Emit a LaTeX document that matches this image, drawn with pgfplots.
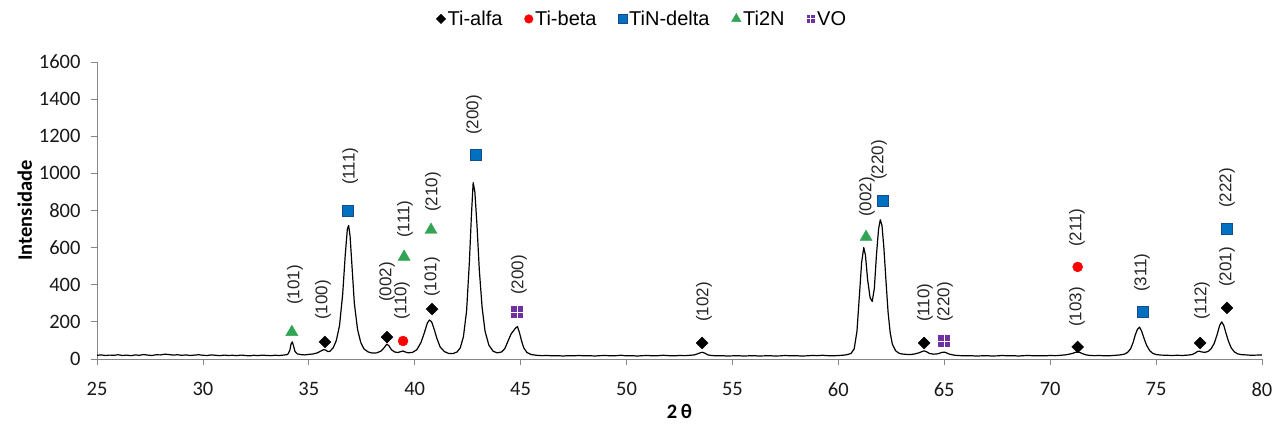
\documentclass[border=0pt]{standalone}
\usepackage{fontspec}
\setmainfont{Liberation Sans}
\newfontfamily\calfont{Carlito}
\usepackage{pgfplots}
\pgfplotsset{compat=1.18}
\definecolor{tinblue}{RGB}{0,112,192}
\definecolor{tinborder}{RGB}{25,75,140}
\definecolor{tigreen}{RGB}{50,165,85}
\definecolor{vopurple}{RGB}{112,48,160}
\definecolor{axgray}{RGB}{134,134,134}
\pgfdeclareplotmark{vo}{%
  \pgfpathrectangle{\pgfqpoint{-\pgfplotmarksize}{-\pgfplotmarksize}}{\pgfqpoint{2\pgfplotmarksize}{2\pgfplotmarksize}}%
  \pgfusepathqfill
  \pgfsetstrokecolor{white}\pgfsetlinewidth{0.9pt}%
  \pgfpathmoveto{\pgfqpoint{0pt}{-\pgfplotmarksize}}\pgfpathlineto{\pgfqpoint{0pt}{\pgfplotmarksize}}%
  \pgfpathmoveto{\pgfqpoint{-\pgfplotmarksize}{0pt}}\pgfpathlineto{\pgfqpoint{\pgfplotmarksize}{0pt}}%
  \pgfusepathqstroke}
\tikzset{lbl/.style={rotate=90, anchor=west, inner sep=0pt, font=\fontsize{17}{17}\selectfont, text=black!85}}
\begin{document}
\begin{tikzpicture}
\useasboundingbox (-97pt,-67pt) rectangle (1176pt,359pt);
\begin{axis}[
  at={(0pt,0pt)}, anchor=south west,
  scale only axis, width=1165pt, height=297pt,
  xmin=25, xmax=80, ymin=0, ymax=1600,
  xtick={25,30,...,80}, ytick={0,200,...,1600},
  axis x line*=bottom, axis y line*=left,
  axis line style={-, draw=axgray, line width=0.8pt},
  tick align=outside, major tick length=6pt,
  tick style={draw=axgray, line width=0.8pt},
  /pgf/number format/assume math mode=true,
  /pgf/number format/1000 sep={},
  ticklabel style={font=\calfont\fontsize{20.5}{20.5}\selectfont, text=black!90},
  xticklabel style={yshift=-14pt},
  yticklabel style={xshift=-7pt},
  xlabel={\textbf{2\,θ}}, ylabel={\textbf{Intensidade}},
  xlabel style={at={(axis description cs:0.5,-0.178)}, anchor=center, font=\calfont\fontsize{20.5}{20.5}\selectfont},
  ylabel style={at={(axis description cs:-0.062,0.5)}, anchor=center, font=\calfont\fontsize{20.5}{20.5}\selectfont},
  legend columns=5,
  legend style={draw=none, fill=none, at={(0.468,1.145)}, anchor=center,
    font=\fontsize{20}{20}\selectfont, nodes={inner sep=2pt},
    /tikz/every even column/.append style={column sep=20pt}},
  clip=false,
]
% legend images
\addlegendimage{legend image code/.code={\draw[only marks, mark=square*, mark size=3.3pt, mark options={rotate=45, fill=black, draw=black}] plot coordinates {(0pt,0pt)};}}
\addlegendentry{Ti-alfa}
\addlegendimage{legend image code/.code={\draw[only marks, mark=*, mark size=4.3pt, mark options={fill=red, draw=red}] plot coordinates {(0pt,0pt)};}}
\addlegendentry{Ti-beta}
\addlegendimage{legend image code/.code={\draw[only marks, mark=square*, mark size=4.3pt, mark options={fill=tinblue, draw=tinborder, line width=0.5pt}] plot coordinates {(0pt,0pt)};}}
\addlegendentry{TiN-delta}
\addlegendimage{legend image code/.code={\draw[only marks, mark=triangle*, mark size=5.5pt, mark options={fill=tigreen, draw=tigreen}] plot coordinates {(0pt,0pt)};}}
\addlegendentry{Ti2N}
\addlegendimage{legend image code/.code={\draw[only marks, mark=vo, mark size=4.3pt, fill=vopurple] plot coordinates {(0pt,0pt)};}}
\addlegendentry{VO}

% diffractogram
\addplot[forget plot, black, line width=1.2pt, line join=round] coordinates {
(25.0,20) (25.2,22) (25.4,19) (25.6,21) (25.8,20) (26.0,23) (26.2,19) (26.4,21) (26.6,18) (26.8,22)
(27.0,20) (27.2,24) (27.4,21) (27.6,19) (27.8,23) (28.0,22) (28.2,26) (28.4,24) (28.6,21) (28.8,23)
(29.0,20) (29.2,22) (29.4,19) (29.6,21) (29.8,23) (30.0,20) (30.2,19) (30.4,22) (30.6,20) (30.8,18)
(31.0,21) (31.2,19) (31.4,20) (31.6,18) (31.8,21) (32.0,19) (32.2,17) (32.4,20) (32.6,18) (32.8,21)
(33.0,19) (33.2,18) (33.4,20) (33.6,19) (33.8,21) (34.0,24)
(34.1,45) (34.16,80) (34.22,92) (34.28,70) (34.35,40) (34.45,28) (34.6,24) (34.8,22) (35.0,25) (35.2,27)
(35.4,33) (35.55,42) (35.7,50) (35.8,48) (35.9,40) (36.0,42) (36.15,60) (36.3,100) (36.45,180) (36.6,350)
(36.72,560) (36.82,700) (36.88,720) (36.95,660) (37.05,480) (37.15,300) (37.3,160) (37.45,90) (37.6,55) (37.8,38)
(38.0,32) (38.2,33) (38.4,42) (38.55,60) (38.68,80) (38.78,72) (38.9,50) (39.05,38) (39.2,35) (39.35,40)
(39.45,43) (39.55,38) (39.7,33) (39.9,36) (40.1,50) (40.3,90) (40.45,140) (40.6,195) (40.7,210) (40.8,200)
(40.92,160) (41.05,110) (41.2,65) (41.4,40) (41.6,30) (41.8,29) (42.0,38) (42.15,60) (42.3,120) (42.45,260)
(42.58,520) (42.68,780) (42.76,950) (42.84,900) (42.94,720) (43.05,480) (43.18,280) (43.32,150) (43.5,75) (43.7,42)
(43.9,33) (44.1,38) (44.25,55) (44.4,95) (44.55,135) (44.65,150) (44.75,165) (44.85,175) (44.95,140) (45.05,95)
(45.15,60) (45.3,35) (45.5,24) (45.75,20) (46.0,18)
(46.25,19) (46.5,17) (46.75,18) (47.0,16) (47.25,18) (47.5,17) (47.75,19) (48.0,17) (48.25,18) (48.5,16)
(48.75,18) (49.0,19) (49.25,17) (49.5,18) (49.75,20) (50.0,17) (50.25,18) (50.5,16) (50.75,18) (51.0,19)
(51.25,17) (51.5,18) (51.75,20) (52.0,18) (52.25,17) (52.5,19) (52.75,18) (53.0,20) (53.2,22) (53.35,28)
(53.5,34) (53.6,36) (53.72,30) (53.85,22) (54.0,19) (54.25,17) (54.5,18) (54.75,16) (55.0,17) (55.25,18)
(55.5,16) (55.75,17) (56.0,18) (56.25,16) (56.5,17) (56.75,18) (57.0,16) (57.25,17) (57.5,19) (57.75,17)
(58.0,18) (58.25,16) (58.5,17) (58.75,19) (59.0,18) (59.25,20) (59.5,18) (59.75,17) (60.0,19) (60.2,20)
(60.4,23) (60.6,30) (60.75,55) (60.88,150) (61.0,350) (61.1,520) (61.2,600) (61.28,560) (61.38,430) (61.5,330)
(61.6,310) (61.7,380) (61.8,560) (61.9,700) (61.98,750) (62.06,720) (62.15,600) (62.25,420) (62.35,250) (62.45,140)
(62.55,80) (62.7,45) (62.85,32) (63.0,27) (63.2,25) (63.4,24) (63.6,27) (63.8,33) (63.95,40) (64.05,44)
(64.15,40) (64.3,30) (64.5,26) (64.7,28) (64.85,34) (64.95,37) (65.05,36) (65.2,28) (65.4,22) (65.6,19)
(65.8,18) (66.0,17) (66.25,18) (66.5,16) (66.75,17) (67.0,18) (67.25,16) (67.5,17) (67.75,19) (68.0,17)
(68.25,18) (68.5,16) (68.75,18) (69.0,19) (69.25,17) (69.5,18) (69.75,17) (70.0,19) (70.25,18) (70.5,20)
(70.7,22) (70.9,26) (71.05,30) (71.2,36) (71.3,38) (71.4,35) (71.55,28) (71.7,22) (71.9,19) (72.1,18)
(72.35,19) (72.6,17) (72.85,18) (73.1,20) (73.3,22) (73.5,26) (73.65,35) (73.8,55) (73.92,90) (74.02,130)
(74.12,160) (74.22,172) (74.32,150) (74.42,115) (74.55,75) (74.7,45) (74.85,30) (75.0,24) (75.25,21) (75.5,20)
(75.75,19) (76.0,20) (76.25,19) (76.5,21) (76.7,24) (76.85,32) (76.95,40) (77.05,42) (77.15,38) (77.3,36)
(77.45,40) (77.6,55) (77.75,85) (77.88,130) (78.0,180) (78.1,200) (78.2,180) (78.3,140) (78.42,95) (78.55,60)
(78.7,38) (78.85,28) (79.0,24) (79.25,22) (79.5,20) (79.75,21) (80.0,22)
};

% phase markers
\addplot[forget plot, only marks, mark=square*, mark size=4.2pt, mark options={rotate=45, fill=black, draw=black}] coordinates {
(35.76,92) (38.69,118) (40.82,269) (53.57,86) (64.05,86) (71.3,65) (77.08,86) (78.35,275)};
\addplot[forget plot, only marks, mark=*, mark size=5pt, mark options={fill=red, draw=red}] coordinates {
(39.45,97) (71.3,496)};
\addplot[forget plot, only marks, mark=square*, mark size=5.5pt, mark options={fill=tinblue, draw=tinborder, line width=0.5pt}] coordinates {
(36.85,797) (42.9,1099) (62.11,850) (74.39,253) (78.35,700)};
\addplot[forget plot, only marks, mark=triangle*, mark size=7pt, mark options={fill=tigreen, draw=tigreen}] coordinates {
(34.2,145) (39.5,550) (40.77,695) (61.31,657)};
\addplot[forget plot, only marks, mark=vo, mark size=5.8pt, fill=vopurple, draw=none] coordinates {
(44.83,253) (65.0,97)};

% reflection labels
\node[lbl] at (axis cs:34.35,291) {(101)};
\node[lbl] at (axis cs:35.67,210) {(100)};
\node[lbl] at (axis cs:36.95,937) {(111)};
\node[lbl] at (axis cs:38.69,307) {(002)};
\node[lbl] at (axis cs:39.40,210) {(110)};
\node[lbl] at (axis cs:39.54,652) {(111)};
\node[lbl] at (axis cs:40.82,334) {(101)};
\node[lbl] at (axis cs:40.86,792) {(210)};
\node[lbl] at (axis cs:42.80,1207) {(200)};
\node[lbl] at (axis cs:44.92,345) {(200)};
\node[lbl] at (axis cs:53.66,199) {(102)};
\node[lbl] at (axis cs:61.35,765) {(002)};
\node[lbl] at (axis cs:61.92,964) {(220)};
\node[lbl] at (axis cs:64.09,199) {(110)};
\node[lbl] at (axis cs:65.04,199) {(220)};
\node[lbl] at (axis cs:71.27,172) {(103)};
\node[lbl] at (axis cs:71.27,603) {(211)};
\node[lbl] at (axis cs:74.34,361) {(311)};
\node[lbl] at (axis cs:77.17,210) {(112)};
\node[lbl] at (axis cs:78.35,388) {(201)};
\node[lbl] at (axis cs:78.35,814) {(222)};
\end{axis}
\end{tikzpicture}
\end{document}
